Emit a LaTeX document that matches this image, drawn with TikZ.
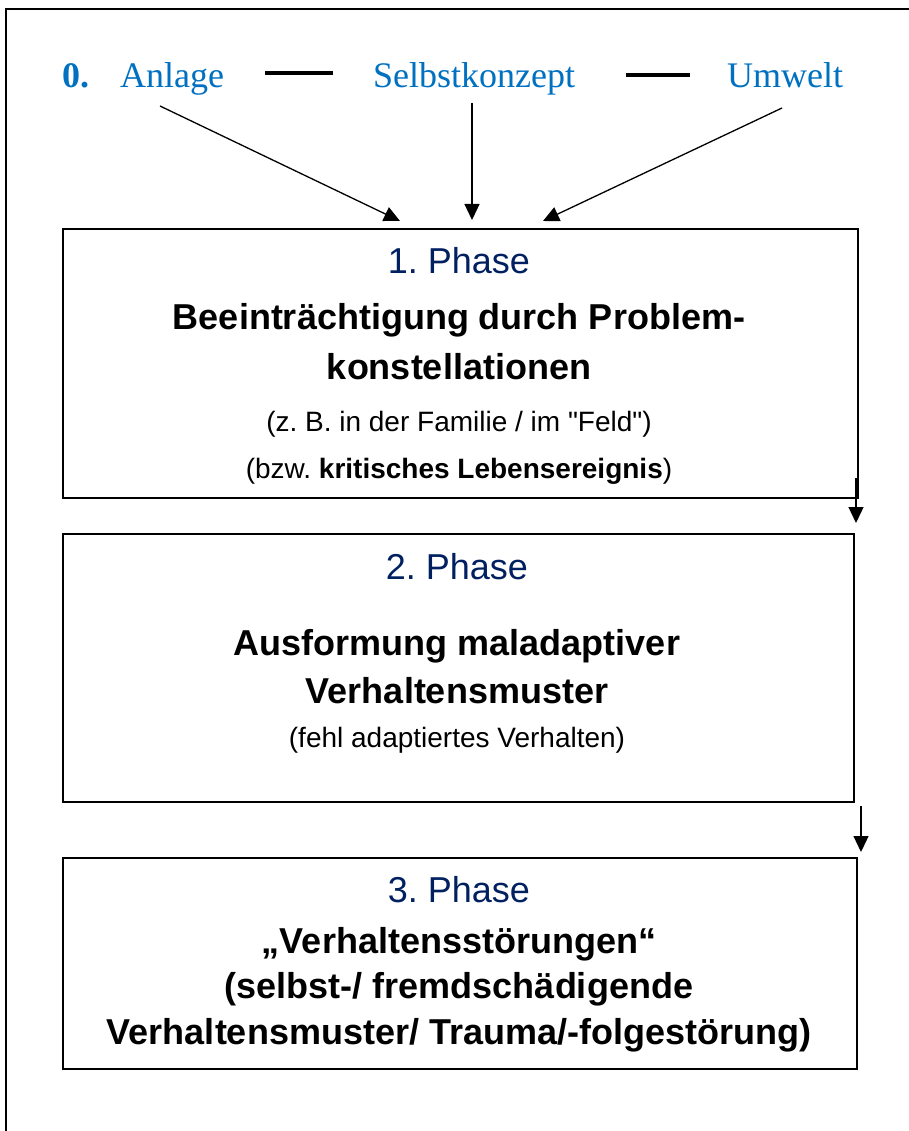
\documentclass[tikz,border=0pt]{standalone}
\usepackage{fontspec}
\setmainfont{Liberation Sans}[Ligatures=TeXOff]
\newfontfamily\serifblue{Liberation Serif}
\usetikzlibrary{arrows.meta}
\definecolor{ablue}{RGB}{0,112,192}
\definecolor{navy}{RGB}{0,32,96}
\begin{document}
\frenchspacing
\begin{tikzpicture}[x=1pt,y=-1pt,
  box/.style={draw, line width=1.8pt, anchor=north west, inner sep=0pt},
  phase/.style={anchor=base, font=\fontsize{36}{36}\selectfont, text=navy, inner sep=0pt},
  head/.style={anchor=base, font=\fontsize{36}{36}\selectfont\bfseries, inner sep=0pt},
  note/.style={anchor=base, font=\fontsize{28}{28}\selectfont, inner sep=0pt},
  toptext/.style={anchor=base west, font=\fontsize{36}{36}\selectfont\serifblue, text=ablue, inner sep=0pt},
  arr/.style={-{Triangle[length=16pt,width=15pt]}, line width=1.3pt},
  dashline/.style={line width=3.2pt}]
\useasboundingbox (0,0) rectangle (909,1131);
\draw[line width=2pt] (6,1131) -- (6,9) -- (909,9);

% top row
\node[toptext, font=\fontsize{36}{36}\selectfont\serifblue\bfseries] (zero) at (62,88) {0.};
\node[toptext] (anl) at (120,88) {Anlage};
\node[toptext] (sel) at (373,88) {Selbstkonzept};
\node[toptext] (umw) at (727,88) {Umwelt};
\coordinate (d1a) at (265,73); \coordinate (d1b) at (333,73);
\coordinate (d2a) at (626,75); \coordinate (d2b) at (690,75);
\draw[dashline] (d1a) -- (d1b);
\draw[dashline] (d2a) -- (d2b);

% boxes
\node[box, minimum width=795pt, minimum height=269pt] (b1) at (62,228) {};
\node[box, minimum width=791pt, minimum height=268pt] (b2) at (62,533) {};
\node[box, minimum width=794pt, minimum height=211pt] (b3) at (62,857) {};

% arrows from top row
\coordinate (s1) at (160,106); \coordinate (e1) at (400,221);
\coordinate (s2) at (472,103); \coordinate (e2) at (472,220);
\coordinate (s3) at (782,108); \coordinate (e3) at (543,221);
\draw[arr] (s1) -- (e1);
\draw[arr] (s2) -- (e2);
\draw[arr] (s3) -- (e3);

% box 1 text
\node[phase] (p1) at (459,273) {1. Phase};
\node[head] (h1a) at (459,329) {Beeinträchtigung durch Problem-};
\node[head] (h1b) at (459,379) {konstellationen};
\node[note] (n1a) at (459,431) {(z. B. in der Familie / im "Feld")};
\node[note] (n1b) at (459,478) {(bzw. \textbf{kritisches Lebensereignis})};

% box 2 text
\node[phase] (p2) at (457,579) {2. Phase};
\node[head] (h2a) at (457,655) {Ausformung maladaptiver};
\node[head] (h2b) at (457,703) {Verhaltensmuster};
\node[note] (n2a) at (457,747) {(fehl adaptiertes Verhalten)};

% box 3 text
\node[phase] (p3) at (459,902) {3. Phase};
\node[head] (h3a) at (459,953) {„Verhaltensstörungen“};
\node[head] (h3b) at (459,998) {(selbst-/ fremdschädigende};
\node[head] (h3c) at (459,1044) {Verhaltensmuster/ Trauma/-folgestörung)};

% arrows between boxes
\coordinate (c1s) at (856,478); \coordinate (c1e) at (856,523);
\coordinate (c2s) at (861,806); \coordinate (c2e) at (861,852);
\draw[arr] (c1s) -- (c1e);
\draw[arr] (c2s) -- (c2e);
\end{tikzpicture}
\end{document}
